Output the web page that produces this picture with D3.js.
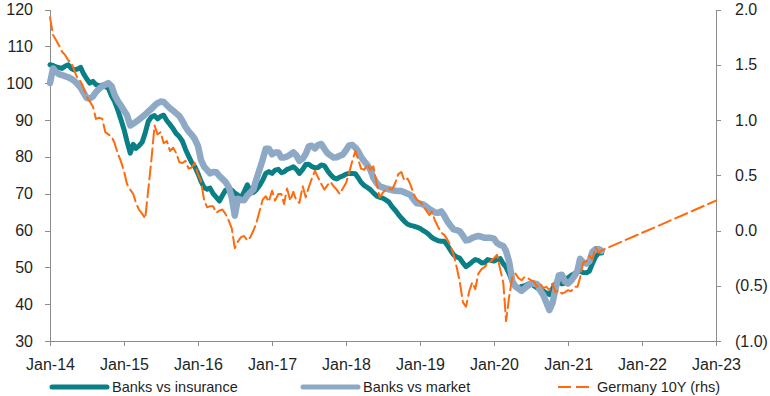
<!DOCTYPE html>
<html>
<head>
    <script src="https://cdnjs.cloudflare.com/ajax/libs/d3/7.8.5/d3.min.js"></script>
    <style>
        body { margin: 0; background: #fff; }
        svg text { font-family: "Liberation Sans", Arial, sans-serif; fill: #1f1f1f; }
        .axis path, .axis line { stroke: #8c8c8c; stroke-width: 1px; shape-rendering: crispEdges; }
        .axis text { font-size: 16px; }
        .legend text { font-size: 14.5px; }
        .series { fill: none; stroke-linejoin: round; stroke-linecap: round; }
    </style>
</head>
<body>
    <div id="chart"></div>
    <script>
        const width = 770, height = 396;
        const plotLeft = 50, plotRight = 716, plotTop = 9.5, plotBottom = 341;

        // semi-monthly observations (1st and 16th), Jan-14 to mid Jun-21
        const banksVsInsurance = [
            105, 104.8, 104.4, 104.2, 104, 104.6, 105, 104, 103.6, 103.8,
            104.3, 102.5, 101.2, 100, 100.5, 99.6, 99.2, 99.5, 99, 98.6,
            96.5, 95, 92.8, 90.3, 87.5, 84.2, 81, 83.4, 82.3, 83,
            84, 86.5, 89.6, 90.8, 91.2, 90.3, 91, 91.3, 89.8, 88.8,
            87.6, 86.3, 85.5, 84.3, 82, 80.2, 78.5, 77.4, 75.5, 73.4,
            71.6, 71.2, 71.5, 70, 69, 68, 69.5, 70.9, 71.3, 71,
            70.2, 69.6, 68.9, 70.5, 72.4, 70.8, 70.3, 71.1, 72.3, 73.7,
            75.5, 76, 75.5, 76.4, 76.6, 75.7, 75.9, 76.6, 76.9, 77.3,
            76.6, 75.5, 76.6, 77.9, 78, 77.4, 77, 77.1, 77.8, 77.6,
            76.3, 75.2, 74.3, 74, 74.5, 74.8, 75.3, 75.5, 75.5, 75.4,
            74.4, 73.1, 72.2, 71.7, 71.1, 70.2, 69.4, 69, 68.8, 68.3,
            67.7, 66.5, 65.5, 64.4, 63.4, 62.5, 61.7, 61.4, 61.2, 60.9,
            60.6, 60, 59.5, 58.8, 58.1, 57.6, 57.2, 57.1, 57.1, 56,
            54.6, 53.4, 52.8, 52.5, 51.2, 50.2, 50.8, 51.5, 52.1, 51.9,
            51.2, 51.3, 52.1, 51.9, 51.7, 52.1, 52.4, 51, 50, 48.3,
            46, 45, 44.4, 44.8, 45, 45.4, 45.6, 45, 44.4, 44,
            43.6, 43, 42.6, 44.2, 45.7, 46, 45.5, 45.7, 47.2, 47.8,
            48.3, 48.7, 49, 48.6, 48.5, 49, 51, 52.8, 53.9, 53.9
        ];

        const banksVsMarket = [
            100, 104, 103, 102.4, 102.2, 101.9, 101.6, 101.2, 100.6, 99.8,
            98.8, 97.4, 96, 95.8, 96.4, 97.6, 98.5, 99.1, 99.6, 100,
            99.2, 96.8, 95.2, 94, 92.6, 91.3, 88.5, 89, 89.5, 90.1,
            90.8, 91.5, 92.3, 93, 93.9, 94.6, 95, 94.9, 94, 93.2,
            92.5, 91.8, 91.1, 89.8, 88.1, 86.9, 86, 84.9, 83, 79.2,
            77.3, 76.4, 75.5, 75.9, 75.8, 74.8, 74, 73.2, 71.8, 69,
            64, 68.6, 68.3, 68.2, 69.5, 70.3, 71.2, 74, 76.7, 79.3,
            82.2, 82.2, 80.7, 81.2, 81.2, 79.8, 79.8, 80.1, 80.6, 81.2,
            80.4, 78.9, 79.5, 80.8, 82.8, 83, 82.3, 83.2, 83.5, 82.2,
            81, 80.4, 79.8, 79.9, 80.3, 80.6, 81.8, 83.1, 83.2, 82.5,
            81.6, 80, 78.8, 77.8, 76.5, 74.3, 72.9, 72, 71.7, 71.4,
            71.2, 71, 70.8, 70.7, 70.7, 70.4, 70, 69.6, 68.4, 67.4,
            67.3, 67.1, 66.5, 65.9, 65.4, 64.9, 64.8, 65.2, 64, 62.5,
            61.3, 60.3, 60.1, 59.8, 58.6, 57.3, 57.5, 58, 58.3, 58.5,
            58.3, 58, 58, 58, 57.8, 56.6, 56.1, 55.8, 54.4, 51.5,
            46.2, 44.8, 44.2, 43.6, 44.3, 45, 45.6, 45.6, 45.4, 43.8,
            42.4, 40.4, 38.4, 40.3, 44.5, 47.8, 48, 46.2, 45.6, 46.4,
            47.6, 49, 52.3, 51.4, 51, 51.6, 54.2, 54.9, 55, 54.5
        ];

        // Germany 10Y yield, %, right hand scale
        const germany10y = [
            1.93, 1.77, 1.72, 1.67, 1.62, 1.59, 1.54, 1.52, 1.45, 1.38,
            1.35, 1.29, 1.21, 1.17, 1.12, 1.01, 1.02, 1.01, 0.89, 0.87,
            0.85, 0.79, 0.70, 0.63, 0.54, 0.42, 0.37, 0.33, 0.25, 0.19,
            0.15, 0.11, 0.37, 0.63, 0.95, 0.87, 0.89, 0.79, 0.81, 0.72,
            0.75, 0.70, 0.62, 0.61, 0.63, 0.56, 0.57, 0.61, 0.51, 0.45,
            0.27, 0.21, 0.22, 0.22, 0.16, 0.18, 0.19, 0.15, 0.09, 0.02,
            -0.16, -0.10, -0.06, -0.05, -0.09, -0.06, 0.00, 0.07, 0.18, 0.28,
            0.31, 0.26, 0.36, 0.27, 0.33, 0.33, 0.24, 0.38, 0.27, 0.35,
            0.27, 0.25, 0.40, 0.30, 0.39, 0.47, 0.54, 0.48, 0.42, 0.37,
            0.41, 0.44, 0.40, 0.37, 0.33, 0.38, 0.43, 0.52, 0.63, 0.72,
            0.65, 0.56, 0.55, 0.60, 0.55, 0.58, 0.43, 0.30, 0.34, 0.37,
            0.38, 0.37, 0.43, 0.51, 0.53, 0.45, 0.47, 0.41, 0.33, 0.28,
            0.26, 0.23, 0.18, 0.14, 0.17, 0.09, 0.03, -0.02, -0.04, -0.08,
            -0.14, -0.22, -0.33, -0.46, -0.65, -0.69, -0.55, -0.47, -0.53, -0.39,
            -0.35, -0.33, -0.30, -0.28, -0.25, -0.22, -0.35, -0.47, -0.82, -0.60,
            -0.42, -0.39, -0.43, -0.45, -0.42, -0.43, -0.45, -0.46, -0.51, -0.48,
            -0.52, -0.51, -0.54, -0.48, -0.56, -0.54, -0.57, -0.56, -0.54, -0.55,
            -0.51, -0.51, -0.43, -0.29, -0.28, -0.23, -0.26, -0.15, -0.20, -0.18
        ];
        const germanyEndDate = new Date(2023, 0, 1);
        const germanyEndValue = 0.27;

        const leftTicks = [30, 40, 50, 60, 70, 80, 90, 100, 110, 120];
        const rightTicks = [-1, -0.5, 0, 0.5, 1, 1.5, 2];
        const yearTicks = d3.range(2014, 2024).map(y => new Date(y, 0, 1));

        const legendItems = [
            { name: "Banks vs insurance", color: "#0b7f86", width: 5, dash: null, x: 52 },
            { name: "Banks vs market", color: "#8ea9c6", width: 5, dash: null, x: 303 },
            { name: "Germany 10Y (rhs)", color: "#ff6a0d", width: 2, dash: "13,5", x: 558 }
        ];

        function obsDate(i) {
            return new Date(2014, Math.floor(i / 2), i % 2 ? 16 : 1);
        }

        const svg = d3.select("#chart").append("svg").attr("width", width).attr("height", height);

        const x = d3.scaleTime().domain([new Date(2014, 0, 1), new Date(2023, 0, 1)]).range([plotLeft, plotRight]);
        const yL = d3.scaleLinear().domain([30, 120]).range([plotBottom, plotTop]);
        const yR = d3.scaleLinear().domain([-1, 2]).range([plotBottom, plotTop]);

        const fmtR = v => v < 0 ? "(" + d3.format(".1f")(-v) + ")" : d3.format(".1f")(v);

        svg.append("g").attr("class", "axis")
            .attr("transform", `translate(${plotLeft},0)`)
            .call(d3.axisLeft(yL).tickValues(leftTicks).tickSize(5).tickSizeOuter(0).tickPadding(12));

        svg.append("g").attr("class", "axis")
            .attr("transform", `translate(${plotRight},0)`)
            .call(d3.axisRight(yR).tickValues(rightTicks).tickFormat(fmtR).tickSize(5).tickSizeOuter(0).tickPadding(14));

        svg.append("g").attr("class", "axis")
            .attr("transform", `translate(0,${plotBottom})`)
            .call(d3.axisBottom(x).tickValues(yearTicks).tickFormat(d3.timeFormat("%b-%y")).tickSize(5).tickSizeOuter(0).tickPadding(13));

        svg.selectAll(".axis text").attr("fill", "#1f1f1f");

        const lineL = d3.line().x((d, i) => x(obsDate(i))).y(d => yL(d));

        svg.append("path").datum(banksVsInsurance)
            .attr("class", "series")
            .attr("stroke", legendItems[0].color)
            .attr("stroke-width", 5)
            .attr("d", lineL);

        svg.append("path").datum(banksVsMarket)
            .attr("class", "series")
            .attr("stroke", legendItems[1].color)
            .attr("stroke-width", 6.5)
            .attr("d", lineL);

        const germanyPts = germany10y.map((v, i) => [obsDate(i), v]);
        germanyPts.push([germanyEndDate, germanyEndValue]);

        svg.append("path").datum(germanyPts)
            .attr("class", "series")
            .attr("stroke", legendItems[2].color)
            .attr("stroke-width", 2)
            .attr("stroke-linecap", "butt")
            .attr("stroke-dasharray", legendItems[2].dash)
            .attr("d", d3.line().x(d => x(d[0])).y(d => yR(d[1])));

        // legend
        const legend = svg.append("g").attr("class", "legend")
            .selectAll("g")
            .data(legendItems)
            .enter().append("g")
            .attr("transform", d => `translate(${d.x},387)`);

        legend.append("line")
            .attr("x1", 0).attr("x2", d => d.dash ? 36 : 55)
            .attr("stroke", d => d.color)
            .attr("stroke-width", d => d.width)
            .attr("stroke-linecap", d => d.dash ? "butt" : "round")
            .attr("stroke-dasharray", d => d.dash);

        legend.append("text")
            .attr("x", d => d.dash ? 39 : 60)
            .attr("dy", "0.35em")
            .text(d => d.name);
    </script>
</body>
</html>
